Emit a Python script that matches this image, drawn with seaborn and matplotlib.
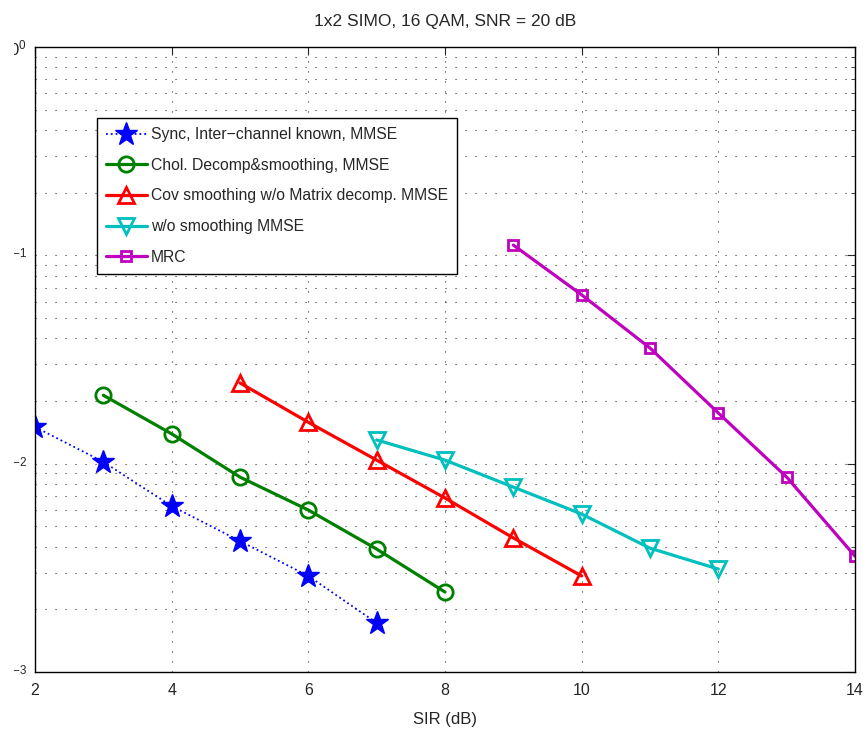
import seaborn as sns
import matplotlib.pyplot as plt
import matplotlib.ticker as mticker
from matplotlib.transforms import Bbox, TransformedBbox

# SIR values (dB) and BER per scheme
sir_sync = [2, 3, 4, 5, 6, 7]
ber_sync = [0.0150, 0.0102, 0.00626, 0.00425, 0.00289, 0.00172]

sir_chol = [3, 4, 5, 6, 7, 8]
ber_chol = [0.0213, 0.0139, 0.00862, 0.00599, 0.00389, 0.00242]

sir_cov = [5, 6, 7, 8, 9, 10]
ber_cov = [0.0244, 0.0158, 0.0104, 0.00684, 0.0044, 0.00289]

sir_nosm = [7, 8, 9, 10, 11, 12]
ber_nosm = [0.0130, 0.0104, 0.00772, 0.00573, 0.00393, 0.00312]

sir_mrc = [9, 10, 11, 12, 13, 14]
ber_mrc = [0.112, 0.0646, 0.0359, 0.0175, 0.00862, 0.0036]

labels = ["Sync, Inter\u2212channel known, MMSE",
          "Chol. Decomp&smoothing, MMSE",
          "Cov smoothing w/o Matrix decomp. MMSE",
          "w/o smoothing MMSE",
          "MRC"]

sns.set_style("white")
plt.rcParams['font.family'] = ['Liberation Sans', 'DejaVu Sans']
plt.rcParams['mathtext.fontset'] = 'custom'
plt.rcParams['mathtext.rm'] = 'Liberation Sans'

fig = plt.figure(figsize=(8.67, 7.34), dpi=100)
ax = fig.add_axes([35 / 867, 1 - 672 / 734, 820 / 867, 625 / 734])

#plotting each scheme
def curve(x, y, col, mk, ms, ls='-', lw=2.3, filled=False, label=None):
    sns.lineplot(x=x, y=y, ax=ax, color=col, linestyle=ls, linewidth=lw,
                 marker=mk, markersize=ms, markeredgewidth=2 if not filled else 1,
                 markeredgecolor=col, markerfacecolor=col if filled else 'none',
                 label=label)

curve(sir_sync, ber_sync, (0, 0, 1), '*', 17, ls=':', lw=1.3, filled=True, label=labels[0])
curve(sir_chol, ber_chol, (0, 0.5, 0), 'o', 11, label=labels[1])
curve(sir_cov, ber_cov, (1, 0, 0), '^', 12, label=labels[2])
curve(sir_nosm, ber_nosm, (0, 0.75, 0.75), 'v', 12, label=labels[3])
curve(sir_mrc, ber_mrc, (0.75, 0, 0.75), 's', 7, label=labels[4])

ax.set_yscale('log')
ax.set_xlim(2, 14)
ax.set_ylim(1e-3, 1)
ax.set_xticks([2, 4, 6, 8, 10, 12, 14])
ax.set_yticks([1e-3, 1e-2, 1e-1, 1])
ax.yaxis.set_minor_locator(mticker.LogLocator(base=10, subs=range(2, 10)))
ax.yaxis.set_minor_formatter(mticker.NullFormatter())

ax.grid(True, which='both', linestyle=(0, (1, 8)), color='0.2', linewidth=0.8)
ax.tick_params(which='both', direction='in', top=True, right=True)
ax.tick_params(which='major', length=6)
ax.tick_params(which='minor', length=3)
ax.tick_params(axis='x', labelsize=11.5, pad=8)
ax.tick_params(axis='y', labelsize=12, pad=5.7)
for s in ax.spines.values():
    s.set_color('black')
    s.set_linewidth(1)

ax.set_xlabel("SIR (dB)", fontsize=12, labelpad=10)
ax.set_title("1x2 SIMO, 16 QAM, SNR = 20 dB", fontsize=12.5, pad=15)

leg = ax.legend(loc='upper left', bbox_to_anchor=(0.075, 0.887), fontsize=11.3, frameon=True,
                fancybox=False, edgecolor='black', framealpha=1, borderpad=0.6,
                labelspacing=1.0, handlelength=2.6, handletextpad=0.25, borderaxespad=0)
leg.get_frame().set_linewidth(1)

# the left margin crops the y tick labels like the reference
clip = TransformedBbox(Bbox([[14 / 867, 0], [1, 1]]), fig.transFigure)
for t in ax.yaxis.get_major_ticks():
    t.label1.set_clip_box(clip)
    t.label1.set_clip_on(True)

fig.savefig("out.png", dpi=100)
